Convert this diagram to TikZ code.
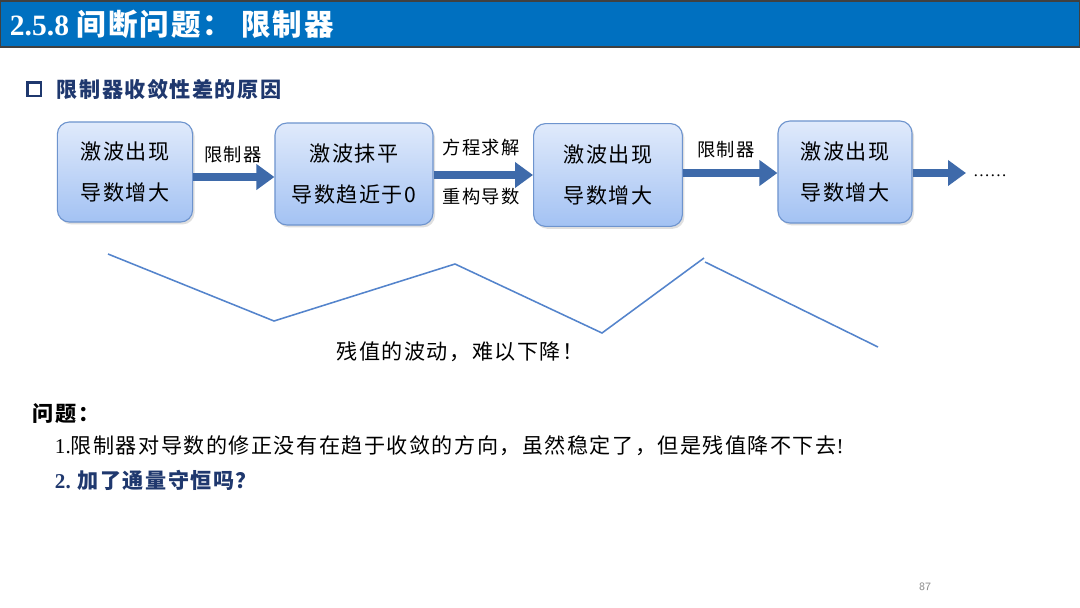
\documentclass[tikz,border=0pt]{standalone}
\usepackage{fontspec}
\setmainfont{Liberation Serif}
\newfontfamily\cjk[LetterSpace=7]{Noto Sans CJK SC}
\usepackage{xcolor}
\usetikzlibrary{arrows.meta, positioning, shadows}
\definecolor{titleblue}{RGB}{0,112,192}
\definecolor{navytext}{RGB}{31,56,110}
\definecolor{boxtop}{RGB}{224,234,251}
\definecolor{boxbottom}{RGB}{163,194,243}
\definecolor{boxedge}{RGB}{110,148,206}
\definecolor{arrowblue}{RGB}{62,106,170}
\definecolor{waveblue}{RGB}{84,132,204}

\begin{document}
\begin{tikzpicture}[x=0.025cm, y=-0.025cm,
    stagebox/.style={rectangle, rounded corners=0.3cm, draw=boxedge, line width=0.8pt,
        top color=boxtop, bottom color=boxbottom,
        drop shadow={shadow xshift=0.05cm, shadow yshift=-0.06cm, opacity=0.25},
        align=center, font=\cjk\fontsize{15}{28.5}\selectfont},
    flowarrow/.style={arrowblue, line width=0.22cm, -{Triangle[length=0.45cm, width=0.62cm]}},
    arrowlabel/.style={font=\cjk\fontsize{13}{15}\selectfont}]

    % Page
    \useasboundingbox[fill=white] (0,0) rectangle (1080,607);

    % Title bar
    \draw[fill=titleblue, draw=black!75, line width=0.8pt] (0,1) rectangle (1080,47);
    \node[anchor=west, text=white, font=\fontsize{21}{25}\selectfont\bfseries] (title) at (5,24)
        {2.5.8 {\cjk\bfseries 间断问题：\ 限制器}};

    % Section heading
    \draw[navytext, line width=2pt] (27.5,82.5) rectangle (41,96);
    \node[anchor=west, text=navytext, font=\cjk\bfseries\fontsize{15}{18}\selectfont] (heading) at (52,89)
        {限制器收敛性差的原因};

    % Stages
    \node[stagebox, minimum width=3.38cm, minimum height=2.5cm] (s1) at (125,172) {激波出现\\导数增大};
    \node[stagebox, minimum width=3.95cm, minimum height=2.55cm] (s2) at (354,174) {激波抹平\\导数趋近于0};
    \node[stagebox, minimum width=3.72cm, minimum height=2.57cm] (s3) at (608,175) {激波出现\\导数增大};
    \node[stagebox, minimum width=3.35cm, minimum height=2.55cm] (s4) at (845,172) {激波出现\\导数增大};

    % Arrows between stages
    \draw[flowarrow] (s1.east |- 0,177) -- (s2.west |- 0,177);
    \node[arrowlabel] (lab1) at (233,155) {限制器};

    \draw[flowarrow] (s2.east |- 0,175) -- (s3.west |- 0,175);
    \node[arrowlabel] (lab2) at (481,148) {方程求解};
    \node[arrowlabel] (lab3) at (481,197) {重构导数};

    \draw[flowarrow] (s3.east |- 0,173) -- (s4.west |- 0,173);
    \node[arrowlabel] (lab4) at (726,150) {限制器};

    \coordinate (more) at (966,173);
    \draw[flowarrow] (s4.east |- more) -- (more);
    \node[font=\fontsize{12}{14}\selectfont] (dots) at (990,176) {……};

    % Residual oscillation
    \draw[waveblue, line width=1.1pt] (108,254) -- (274,321) -- (455,264) -- (602,333) -- (704,258);
    \draw[waveblue, line width=1.1pt] (705,262) -- (878,347);
    \node[font=\cjk\fontsize{15}{18}\selectfont] (wave) at (460,352) {残值的波动，难以下降！};

    % Questions
    \node[anchor=west, font=\cjk\bfseries\fontsize{15}{18}\selectfont] (q0) at (28,414) {问题：};
    \node[anchor=west, font=\fontsize{15}{18}\selectfont] (q1) at (50,446)
        {1.{\cjk 限制器对导数的修正没有在趋于收敛的方向，虽然稳定了，但是残值降不下去}!};
    \node[anchor=west, text=navytext, font=\bfseries\fontsize{15}{18}\selectfont] (q2) at (50,480)
        {2. {\cjk\bfseries 加了通量守恒吗？}};

    % Page number
    \node[text=black!45, font=\sffamily\fontsize{8}{10}\selectfont] (page) at (925,587) {87};
\end{tikzpicture}
\end{document}
